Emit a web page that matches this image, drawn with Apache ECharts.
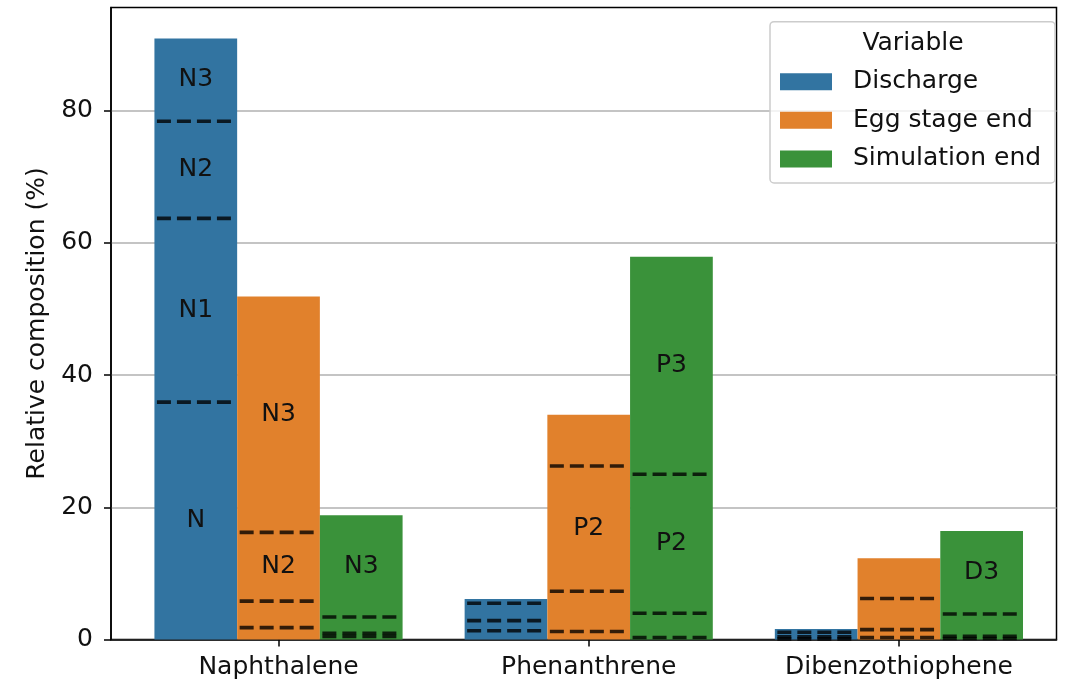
<!DOCTYPE html>
<html>
<head>
<meta charset="utf-8">
<script src="https://cdn.jsdelivr.net/npm/echarts@6/dist/echarts.min.js"></script>
<style>
  html, body { margin: 0; padding: 0; background: #fff; }
  #chart { width: 1076px; height: 684px; }
</style>
</head>
<body>
<div id="chart"></div>
<script>
// Compounds on the x axis and the code used for their sub-groups
const categories = ['Naphthalene', 'Phenanthrene', 'Dibenzothiophene'];
const groupCodes = ['N', 'P', 'D'];
const subgroupSuffixes = ['', '1', '2', '3'];

// Hue levels
const variables = ['Discharge', 'Egg stage end', 'Simulation end'];
const colors = ['#3274a1', '#e1812c', '#3a923a'];

// Share (%) of each sub-group, bottom to top (X, X1, X2, X3), per compound
const discharge = [
  [35.9, 27.8, 14.7, 12.5],
  [1.33, 1.52, 2.63, 0.65],
  [0.1, 0.3, 0.7, 0.5]
];
const eggStageEnd = [
  [1.8, 4.0, 10.4, 35.7],
  [1.2, 6.1, 18.95, 7.75],
  [0.3, 1.2, 4.7, 6.1]
];
const simulationEnd = [
  [0.45, 0.5, 2.45, 15.4],
  [0.3, 3.66, 21.04, 32.9],
  [0.15, 0.35, 3.36, 12.54]
];
const seriesValues = [discharge, eggStageEnd, simulationEnd];

const yTicks = [0, 20, 40, 60, 80];

const FONT = 'DejaVu Sans';
const FS = 25;
const GROUP_WIDTH = 0.8;       // share of a category slot taken by the bars
const LABEL_MIN = 10;          // segments at least this tall get their name

const chart = echarts.init(document.getElementById('chart'), null, { renderer: 'canvas' });

function makeRenderItem(k) {
  return function (params, api) {
    const i = api.value(0);
    const w = GROUP_WIDTH / variables.length;
    const xl = i - GROUP_WIDTH / 2 + k * w;
    const xr = xl + w;
    const segs = [api.value(1), api.value(2), api.value(3), api.value(4)];
    const cum = [];
    let s = 0;
    segs.forEach(v => { s += v; cum.push(s); });
    const total = s;

    const pl = api.coord([xl, 0]);
    const pr = api.coord([xr, total]);
    const x0 = pl[0], x1 = pr[0], y0 = pl[1], yTop = pr[1];

    const children = [{
      type: 'rect',
      shape: { x: x0, y: yTop, width: x1 - x0, height: y0 - yTop },
      style: { fill: colors[k] }
    }];

    // boundaries between sub-groups
    for (let j = 0; j < cum.length - 1; j++) {
      const y = api.coord([xl, cum[j]])[1];
      children.push({
        type: 'line',
        shape: { x1: x0 + 2.5, y1: y, x2: x1 - 2.5, y2: y },
        style: { stroke: 'rgba(0,0,0,0.78)', lineWidth: 3.6, lineDash: [14, 6] },
        z2: 5
      });
    }

    // sub-group names in the taller segments
    let base = 0;
    segs.forEach((v, j) => {
      if (v >= LABEL_MIN) {
        const p = api.coord([(xl + xr) / 2, base + v / 2]);
        children.push({
          type: 'text',
          x: p[0], y: p[1],
          style: {
            text: groupCodes[i] + subgroupSuffixes[j],
            fill: '#111',
            font: FS + 'px "' + FONT + '"',
            align: 'center',
            verticalAlign: 'middle'
          },
          z2: 6
        });
      }
      base += v;
    });

    return { type: 'group', children: children };
  };
}

const series = variables.map((name, k) => ({
  name: name,
  type: 'custom',
  renderItem: makeRenderItem(k),
  itemStyle: { color: colors[k] },
  encode: { x: 0, y: 1 },
  data: seriesValues[k].map((segs, i) => [i].concat(segs)),
  z: 2
}));

const option = {
  animation: false,
  backgroundColor: '#fff',
  textStyle: { fontFamily: FONT },
  grid: {
    left: 111, right: 19.5, top: 7.5, bottom: 44.5,
    show: true, borderColor: '#000', borderWidth: 1.5,
    backgroundColor: 'transparent'
  },
  xAxis: {
    type: 'value',
    min: -0.54,
    max: 2.508,
    splitLine: { show: false },
    axisLine: { show: true, onZero: false, lineStyle: { color: '#000', width: 1.5 } },
    axisTick: {
      show: true, length: 7,
      customValues: categories.map((c, i) => i),
      lineStyle: { color: '#000', width: 1.5 }
    },
    axisLabel: {
      customValues: categories.map((c, i) => i),
      formatter: v => categories[Math.round(v)] || '',
      fontSize: FS, color: '#111', fontFamily: FONT, margin: 15
    }
  },
  yAxis: {
    type: 'value',
    min: 0,
    max: 95.6,
    interval: 20,
    name: 'Relative composition (%)',
    nameLocation: 'middle',
    nameGap: 61,
    nameTextStyle: { fontSize: FS, color: '#111', fontFamily: FONT },
    axisLine: { show: true, onZero: false, lineStyle: { color: '#000', width: 1.5 } },
    axisTick: {
      show: true, length: 7,
      customValues: yTicks,
      lineStyle: { color: '#000', width: 1.5 }
    },
    axisLabel: {
      customValues: yTicks,
      fontSize: FS, color: '#111', fontFamily: FONT, margin: 18
    },
    splitLine: { show: true, lineStyle: { color: '#b0b0b0', width: 1.5 } }
  },
  legend: {
    orient: 'vertical',
    left: 780,
    top: 67.7,
    padding: 0,
    itemWidth: 52,
    itemHeight: 17,
    itemGap: 10.6,
    icon: 'rect',
    z: 10,
    data: variables,
    textStyle: {
      fontSize: FS, color: '#111', fontFamily: FONT,
      lineHeight: 28, padding: [0, 0, 0, 16]
    }
  },
  graphic: [
    {
      type: 'rect',
      z: 8,
      shape: { x: 770, y: 21.7, width: 285, height: 161.3, r: 4 },
      style: { fill: 'rgba(255,255,255,0.8)', stroke: '#cccccc', lineWidth: 1.5 }
    },
    {
      type: 'text',
      z: 9,
      x: 913, y: 43,
      style: {
        text: 'Variable', fill: '#111',
        font: FS + 'px "' + FONT + '"',
        align: 'center', verticalAlign: 'middle'
      }
    }
  ],
  series: series
};

chart.setOption(option);
</script>
</body>
</html>
